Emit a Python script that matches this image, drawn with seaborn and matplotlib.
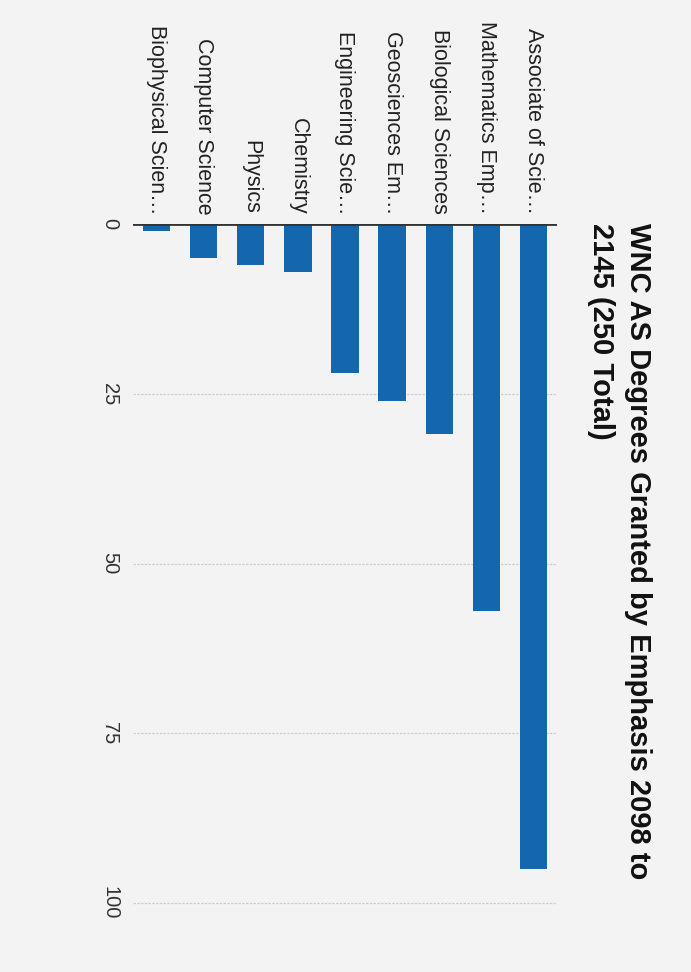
import matplotlib
matplotlib.use("Agg")
import matplotlib.pyplot as plt
import seaborn as sns
import pandas as pd

# Data (top-to-bottom order in the original horizontal chart)
emphasis = [
    "Associate of Scie\u2026",
    "Mathematics Emp\u2026",
    "Biological Sciences",
    "Geosciences Em\u2026",
    "Engineering Scie\u2026",
    "Chemistry",
    "Physics",
    "Computer Science",
    "Biophysical Scien\u2026",
]
degrees = [95, 57, 31, 26, 22, 7, 6, 5, 1]
value_ticks = [0, 25, 50, 75, 100]
title = "WNC AS Degrees Granted by Emphasis 2098 to\n2145 (250 Total)"

df = pd.DataFrame({"emphasis": emphasis, "degrees": degrees})
order = emphasis[::-1]  # displayed left-to-right (chart is rotated 90 deg clockwise)

sns.set_theme(style="white")
plt.rcParams["font.family"] = ["Liberation Sans", "DejaVu Sans"]

W, H = 691, 972
fig = plt.figure(figsize=(W / 100, H / 100), dpi=100)
bg = "#f3f3f3"
fig.patch.set_facecolor(bg)

ymax = 101
left_px, right_px, top_px = 133, 557, 224
bottom_px = top_px + 6.79 * ymax
ax = fig.add_axes([left_px / W, 1 - bottom_px / H,
                   (right_px - left_px) / W, (bottom_px - top_px) / H])
ax.set_facecolor(bg)

sns.barplot(data=df, x="emphasis", y="degrees", order=order,
            color="#1467ad", saturation=1, width=0.58, linewidth=0,
            ax=ax, zorder=3)

ax.set_xlim(-0.5, len(order) - 0.5)
ax.set_ylim(ymax, 0)
ax.set_yticks(value_ticks)
ax.set_yticklabels([str(v) for v in value_ticks], rotation=-90,
                   va="center", fontsize=14.5, color="#333333")
ax.yaxis.grid(True, color="#cfcfcf", lw=0.9, ls=(0, (2, 1)), zorder=0)
ax.xaxis.grid(False)
ax.axhline(0, color="#333333", lw=2, zorder=4)

ax.xaxis.tick_top()
ax.set_xticks(range(len(order)))
ax.set_xticklabels(order, rotation=-90, fontsize=15.5, color="#222222",
                   ha="center", va="bottom")
ax.tick_params(axis="x", length=0, pad=7)
ax.tick_params(axis="y", length=0, pad=10)
ax.set_xlabel("")
ax.set_ylabel("")
for s in ax.spines.values():
    s.set_visible(False)

fig.text(652 / W, 1 - 223 / H, title, rotation=-90, ha="right", va="top",
         fontsize=21, fontweight="bold", color="#111111",
         linespacing=1.4, multialignment="left")

fig.savefig("out.png", dpi=100, facecolor=bg)
